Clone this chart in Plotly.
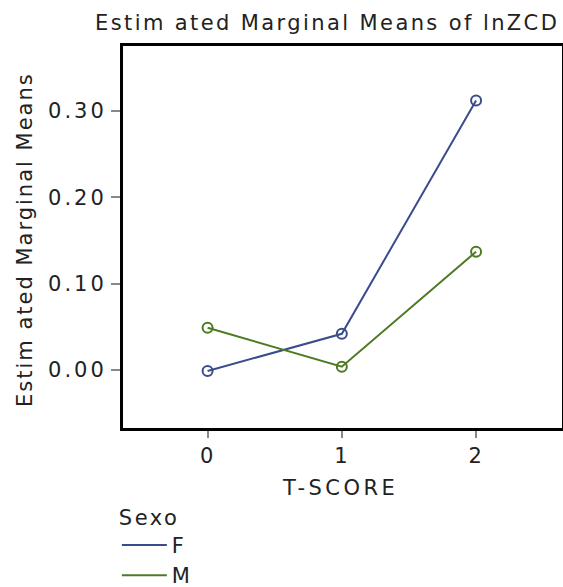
import plotly.graph_objects as go

t_score = [0, 1, 2]
sexo_f = [-0.001, 0.042, 0.312]
sexo_m = [0.049, 0.004, 0.137]
y_ticks = [0.0, 0.1, 0.2, 0.3]
y_tick_labels = ["0.00", "0.10", "0.20", "0.30"]
x_ticks = [0, 1, 2]
x_tick_labels = ["0", "1", "2"]

FONT = "DejaVu Sans"
FS = 21
blue = "#3a4c8c"
green = "#4d7a22"
txt = "#222222"


def sp(s, ls=2):
    return f'<span style="letter-spacing:{ls}px">{s}</span>'


fig = go.Figure()
fig.add_trace(go.Scatter(x=t_score, y=sexo_f, mode="lines+markers", name="F", showlegend=False,
                         line=dict(color=blue, width=2),
                         marker=dict(symbol="circle-open", size=10, color=blue, line=dict(width=2))))
fig.add_trace(go.Scatter(x=t_score, y=sexo_m, mode="lines+markers", name="M", showlegend=False,
                         line=dict(color=green, width=2),
                         marker=dict(symbol="circle-open", size=10, color=green, line=dict(width=2))))
# legend entries (line only, as in the reference)
fig.add_trace(go.Scatter(x=[None], y=[None], mode="lines", name=sp("F"),
                         line=dict(color=blue, width=2)))
fig.add_trace(go.Scatter(x=[None], y=[None], mode="lines", name=sp("M"),
                         line=dict(color=green, width=2)))

fig.update_layout(
    width=563, height=587,
    margin=dict(l=123, r=1, t=46, b=159, autoexpand=False),
    paper_bgcolor="white", plot_bgcolor="white",
    font=dict(family=FONT, size=FS, color=txt),
    showlegend=True,
    legend=dict(title=dict(text=sp("Sexo", 2.5), font=dict(size=FS)), x=-0.014, xanchor="left",
                y=-0.182, yanchor="top", font=dict(size=FS), tracegroupgap=0,
                itemwidth=45, bgcolor="rgba(0,0,0,0)"),
    xaxis=dict(range=[-0.63, 2.64], tickvals=x_ticks, ticktext=[sp(t) for t in x_tick_labels],
               showgrid=False, zeroline=False, showline=True, mirror=True,
               linecolor="black", linewidth=3, ticks="outside", ticklen=7,
               tickcolor="#888888", tickwidth=2, tickfont=dict(size=FS, color=txt)),
    yaxis=dict(range=[-0.067, 0.375], tickvals=y_ticks, ticktext=[sp(t, 3) for t in y_tick_labels],
               showgrid=False, zeroline=False, showline=True, mirror=True,
               linecolor="black", linewidth=3, ticks="outside", ticklen=9,
               tickcolor="#888888", tickwidth=2, ticklabelstandoff=0,
               tickfont=dict(size=FS, color=txt)),
    annotations=[
        dict(text=sp("Estim ated Marginal Means of lnZCD", 2.4), xref="paper", yref="paper",
             x=(327 - 123) / 439, y=1 + (46 - 23) / 382, xanchor="center", yanchor="middle",
             showarrow=False, font=dict(size=FS, color=txt)),
        dict(text=sp("T-SCORE", 3.5), xref="paper", yref="paper",
             x=(340 - 123) / 439, y=-(488 - 428) / 382, xanchor="center", yanchor="middle",
             showarrow=False, font=dict(size=FS, color=txt)),
        dict(text=sp("Estim ated Marginal Means", 2), xref="paper", yref="paper",
             x=(25 - 123) / 439, y=(428 - 240) / 382, xanchor="center", yanchor="middle",
             textangle=-90, showarrow=False, font=dict(size=FS, color=txt)),
    ],
)

fig.write_html("out.html", config={"displayModeBar": False},
               post_script="document.body.style.margin='0px';")
